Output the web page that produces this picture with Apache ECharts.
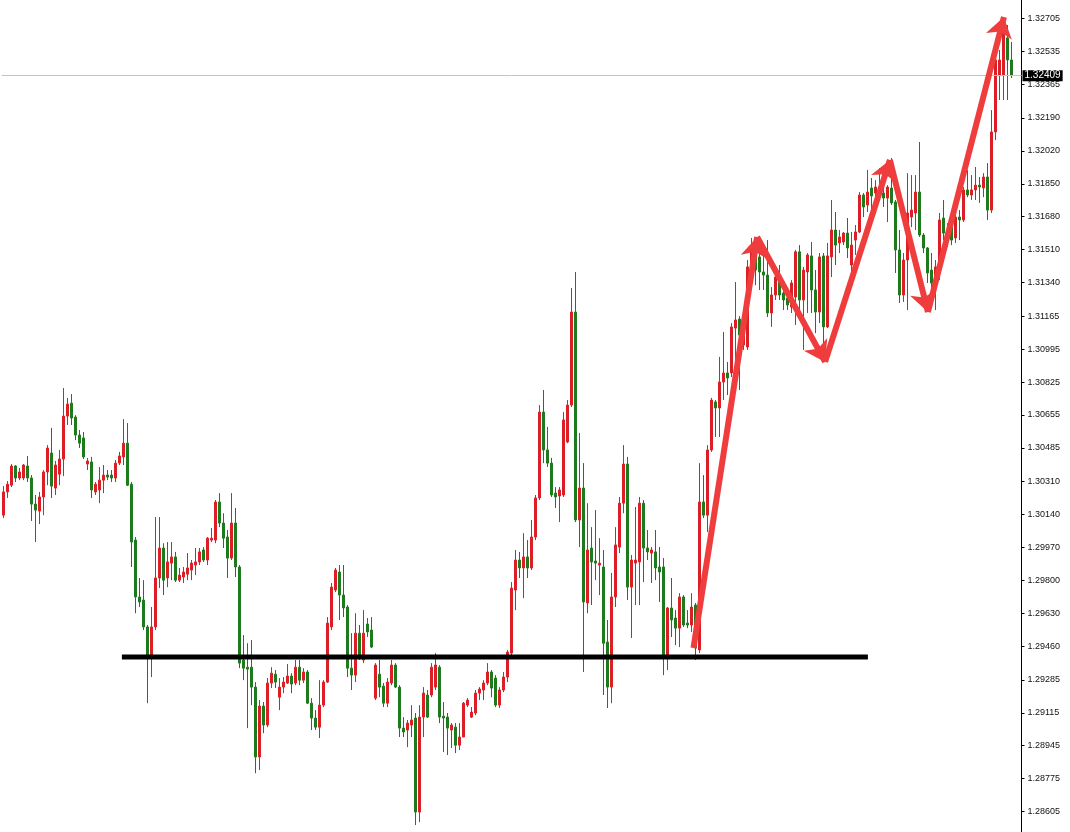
<!DOCTYPE html>
<html><head><meta charset="utf-8">
<script src="https://cdn.jsdelivr.net/npm/echarts@6/dist/echarts.min.js"></script>
<style>html,body{margin:0;padding:0;background:#fff}#c{width:1070px;height:832px}</style>
</head><body><div id="c"></div>
<script>
// ---- candle data (prices) ----
const opens = [
1.30137,1.30257,1.30292,1.30391,1.30329,1.30329,1.30391,1.30329,1.30194,1.30158,
1.30231,1.30360,1.30458,1.30277,1.30349,1.30427,1.30649,1.30716,1.30644,1.30551,
1.30536,1.30401,1.30412,1.30257,1.30267,1.30318,1.30344,1.30344,1.30329,1.30406,
1.30438,1.30509,1.30297,1.30008,1.29714,1.29698,1.29559,1.29404,1.29559,1.29812,
1.29967,1.29812,1.29889,1.29921,1.29801,1.29817,1.29832,1.29853,1.29879,1.29895,
1.29957,1.29905,1.30008,1.30008,1.30205,1.30096,1.30024,1.29915,1.30096,1.29869,
1.29388,1.29351,1.29351,1.29248,1.28887,1.29150,1.29052,1.29269,1.29315,1.29196,
1.29248,1.29269,1.29305,1.29269,1.29351,1.29284,1.29326,1.29165,1.29088,1.29041,
1.29155,1.29274,1.29559,1.29750,1.29843,1.29724,1.29662,1.29346,1.29310,1.29527,
1.29388,1.29574,1.29543,1.29191,1.29315,1.29253,1.29165,1.29269,1.29362,1.29248,
1.29036,1.29026,1.29052,1.29088,1.28602,1.29093,1.29207,1.29207,1.29248,1.29351,
1.29098,1.29093,1.29026,1.29041,1.28948,1.28990,1.29155,1.29093,1.29114,1.29217,
1.29233,1.29269,1.29326,1.29295,1.29155,1.29233,1.29300,1.29424,1.29750,1.29905,
1.29864,1.29921,1.29864,1.30024,1.30226,1.30670,1.30474,1.30406,1.30251,1.30236,
1.30241,1.30515,1.30706,1.31187,1.30112,1.30277,1.29683,1.29967,1.29900,1.29879,
1.29869,1.29481,1.29248,1.29714,1.29972,1.30199,1.30401,1.29765,1.29889,1.29895,
1.30199,1.29967,1.29941,1.29947,1.29869,1.29869,1.29414,1.29657,1.29605,1.29553,
1.29714,1.29579,1.29569,1.29672,1.29440,1.30205,1.30137,1.30474,1.30722,1.30691,
1.30825,1.30872,1.30872,1.31104,1.31151,1.31016,1.31006,1.31420,1.31492,1.31472,
1.31394,1.31378,1.31182,1.31275,1.31352,1.31285,1.31259,1.31213,1.31265,1.31498,
1.31249,1.31394,1.31477,1.31301,1.31187,1.31477,1.31110,1.31472,1.31611,1.31544,
1.31549,1.31595,1.31430,1.31559,1.31601,1.31792,1.31740,1.31828,1.31802,1.31792,
1.31802,1.31776,1.31828,1.31756,1.31508,1.31275,1.31456,1.31678,1.31699,1.31807,
1.31585,1.31518,1.31404,1.31337,1.31420,1.31673,1.31559,1.31637,1.31570,1.31678,
1.31663,1.31818,1.31792,1.31818,1.31843,1.31828,1.31885,1.31714,1.32118,1.32412,
1.32412,1.32604,1.32490];
const closes = [
1.30257,1.30297,1.30391,1.30329,1.30360,1.30396,1.30329,1.30194,1.30163,1.30231,
1.30360,1.30484,1.30287,1.30396,1.30427,1.30649,1.30711,1.30639,1.30551,1.30509,
1.30438,1.30417,1.30267,1.30297,1.30318,1.30344,1.30334,1.30329,1.30406,1.30443,
1.30509,1.30292,1.29998,1.29714,1.29688,1.29559,1.29404,1.29559,1.29812,1.29967,
1.29801,1.29895,1.29921,1.29801,1.29827,1.29843,1.29864,1.29889,1.29895,1.29947,
1.29905,1.30018,1.30018,1.30205,1.30096,1.30018,1.29915,1.30096,1.29869,1.29372,
1.29346,1.29341,1.29248,1.28887,1.29150,1.29052,1.29269,1.29320,1.29274,1.29248,
1.29274,1.29305,1.29264,1.29351,1.29284,1.29326,1.29165,1.29088,1.29041,1.29155,
1.29274,1.29579,1.29765,1.29853,1.29724,1.29657,1.29346,1.29310,1.29527,1.29404,
1.29527,1.29533,1.29455,1.29362,1.29248,1.29165,1.29274,1.29362,1.29248,1.29036,
1.29016,1.29062,1.29078,1.28602,1.29093,1.29217,1.29093,1.29351,1.29362,1.29093,
1.29088,1.29036,1.29052,1.28948,1.28990,1.29165,1.29181,1.29119,1.29217,1.29238,
1.29269,1.29326,1.29243,1.29155,1.29233,1.29300,1.29429,1.29760,1.29905,1.29864,
1.29921,1.29864,1.30024,1.30226,1.30670,1.30474,1.30406,1.30241,1.30231,1.30267,
1.30629,1.30706,1.31187,1.30112,1.30277,1.29688,1.29957,1.29895,1.29889,1.29889,
1.29475,1.29248,1.29714,1.29983,1.30199,1.30401,1.29765,1.29905,1.29905,1.30199,
1.29967,1.29947,1.29957,1.29864,1.29843,1.29404,1.29657,1.29595,1.29553,1.29714,
1.29569,1.29569,1.29662,1.29450,1.30205,1.30137,1.30474,1.30732,1.30691,1.30825,
1.30872,1.30846,1.31110,1.31146,1.31068,1.31146,1.31420,1.31508,1.31404,1.31394,
1.31378,1.31182,1.31275,1.31368,1.31275,1.31249,1.31223,1.31337,1.31498,1.31249,
1.31404,1.31482,1.31301,1.31187,1.31472,1.31110,1.31477,1.31611,1.31533,1.31575,
1.31595,1.31518,1.31533,1.31601,1.31792,1.31730,1.31807,1.31787,1.31833,1.31833,
1.31776,1.31833,1.31751,1.31508,1.31275,1.31456,1.31699,1.31714,1.31807,1.31585,
1.31518,1.31389,1.31337,1.31420,1.31663,1.31595,1.31611,1.31559,1.31678,1.31663,
1.31818,1.31792,1.31818,1.31843,1.31833,1.31885,1.31714,1.32118,1.32490,1.32490,
1.32645,1.32490,1.32409];
const lows = [
1.30122,1.30226,1.30282,1.30308,1.30318,1.30318,1.30308,1.30107,1.29998,1.30091,
1.30137,1.30292,1.30226,1.30241,1.30292,1.30339,1.30603,1.30603,1.30525,1.30484,
1.30427,1.30370,1.30226,1.30241,1.30199,1.30251,1.30318,1.30308,1.30308,1.30396,
1.30396,1.30287,1.29869,1.29630,1.29662,1.29543,1.29165,1.29300,1.29543,1.29760,
1.29724,1.29765,1.29801,1.29791,1.29791,1.29786,1.29801,1.29801,1.29827,1.29879,
1.29895,1.29879,1.29998,1.29992,1.30075,1.29967,1.29812,1.29905,1.29817,1.29346,
1.29284,1.29036,1.29155,1.28803,1.28819,1.29010,1.29041,1.29243,1.29243,1.29129,
1.29217,1.29264,1.29217,1.29258,1.29258,1.29269,1.29160,1.29026,1.29026,1.28985,
1.29145,1.29269,1.29543,1.29739,1.29595,1.29610,1.29300,1.29233,1.29274,1.29388,
1.29372,1.29507,1.29450,1.29181,1.29196,1.29145,1.29145,1.29258,1.29243,1.28990,
1.28990,1.28938,1.28990,1.28535,1.28550,1.28990,1.29088,1.29196,1.29233,1.29062,
1.28912,1.28897,1.28933,1.28907,1.28923,1.28990,1.29145,1.29088,1.29103,1.29181,
1.29181,1.29258,1.29196,1.29145,1.29140,1.29222,1.29274,1.29404,1.29646,1.29812,
1.29708,1.29812,1.29853,1.30008,1.30215,1.30406,1.30386,1.30231,1.30174,1.30101,
1.30231,1.30509,1.30696,1.30101,1.29972,1.29326,1.29630,1.29672,1.29801,1.29724,
1.29207,1.29140,1.29165,1.29662,1.29941,1.30147,1.29698,1.29502,1.29672,1.29672,
1.29791,1.29905,1.29786,1.29801,1.29688,1.29310,1.29336,1.29507,1.29465,1.29455,
1.29559,1.29553,1.29533,1.29388,1.29424,1.30122,1.30050,1.30464,1.30541,1.30541,
1.30732,1.30758,1.30851,1.30939,1.30784,1.30991,1.30991,1.31404,1.31326,1.31301,
1.31301,1.31161,1.31110,1.31249,1.31249,1.31197,1.31197,1.31182,1.31120,1.31161,
1.30991,1.31182,1.31182,1.31078,1.31130,1.31006,1.31104,1.31368,1.31430,1.31492,
1.31533,1.31466,1.31378,1.31482,1.31595,1.31678,1.31704,1.31714,1.31766,1.31766,
1.31730,1.31652,1.31740,1.31389,1.31234,1.31239,1.31197,1.31626,1.31611,1.31575,
1.31492,1.31337,1.31285,1.31197,1.31352,1.31559,1.31523,1.31533,1.31544,1.31559,
1.31652,1.31781,1.31766,1.31766,1.31751,1.31781,1.31663,1.31699,1.32076,1.32283,
1.32283,1.32283,1.32397];
const highs = [
1.30287,1.30313,1.30401,1.30396,1.30381,1.30401,1.30443,1.30344,1.30241,1.30257,
1.30370,1.30499,1.30588,1.30417,1.30474,1.30794,1.30743,1.30763,1.30654,1.30577,
1.30567,1.30433,1.30438,1.30308,1.30386,1.30396,1.30370,1.30370,1.30422,1.30464,
1.30633,1.30613,1.30308,1.30024,1.29812,1.29801,1.29569,1.29662,1.30127,1.30127,
1.29992,1.29998,1.29998,1.29947,1.29864,1.29869,1.29941,1.29905,1.29967,1.29967,
1.29972,1.30024,1.30070,1.30215,1.30251,1.30147,1.30060,1.30251,1.30174,1.29879,
1.29517,1.29475,1.29491,1.29274,1.29181,1.29171,1.29295,1.29351,1.29336,1.29295,
1.29300,1.29367,1.29320,1.29388,1.29388,1.29346,1.29336,1.29191,1.29129,1.29284,
1.29284,1.29610,1.29786,1.29864,1.29879,1.29879,1.29672,1.29527,1.29630,1.29569,
1.29646,1.29605,1.29610,1.29372,1.29388,1.29269,1.29295,1.29388,1.29372,1.29258,
1.29093,1.29078,1.29155,1.29114,1.29155,1.29248,1.29233,1.29372,1.29424,1.29362,
1.29171,1.29114,1.29062,1.29062,1.29062,1.29171,1.29191,1.29145,1.29233,1.29248,
1.29284,1.29372,1.29336,1.29310,1.29248,1.29326,1.29440,1.29791,1.29957,1.29947,
1.30044,1.30008,1.30112,1.30241,1.30706,1.30784,1.30593,1.30433,1.30282,1.30282,
1.30670,1.30732,1.31311,1.31394,1.30562,1.30406,1.30199,1.30075,1.30163,1.30018,
1.29957,1.29595,1.29838,1.30075,1.30231,1.30499,1.30438,1.29931,1.30179,1.30231,
1.30215,1.30060,1.29972,1.30060,1.29972,1.29915,1.29662,1.29812,1.29646,1.29734,
1.29724,1.29646,1.29734,1.29683,1.30406,1.30344,1.30499,1.30743,1.30732,1.30955,
1.31084,1.30929,1.31130,1.31342,1.31166,1.31171,1.31456,1.31570,1.31533,1.31508,
1.31508,1.31559,1.31316,1.31378,1.31430,1.31342,1.31301,1.31352,1.31508,1.31533,
1.31420,1.31492,1.31549,1.31404,1.31492,1.31492,1.31544,1.31766,1.31704,1.31611,
1.31601,1.31673,1.31601,1.31637,1.31807,1.31802,1.31921,1.31880,1.31869,1.31931,
1.31828,1.31843,1.31983,1.31766,1.31611,1.31492,1.31905,1.31895,1.31895,1.32066,
1.31595,1.31523,1.31492,1.31456,1.31699,1.31766,1.31647,1.31652,1.31699,1.31714,
1.31833,1.31921,1.31895,1.31937,1.31885,1.31905,1.31957,1.32231,1.32505,1.32542,
1.32660,1.32671,1.32583];

// ---- axis tick labels ----
const priceTicks = ['1.32705','1.32535','1.32365','1.32190','1.32020','1.31850','1.31680',
 '1.31510','1.31340','1.31165','1.30995','1.30825','1.30655','1.30485','1.30310','1.30140',
 '1.29970','1.29800','1.29630','1.29460','1.29285','1.29115','1.28945','1.28775','1.28605'];
const lastPrice = 1.32409;

// ---- annotations in data space: [bar index, price] ----
const supportLine = [[29.6, 1.29404], [216.1, 1.29404]];
const arrowPath = [[172.5, 1.29450], [188.4, 1.31575], [205.4, 1.30929],
                   [221.6, 1.31973], [231.1, 1.31187], [250.1, 1.32712]];

const padBars = 2;
const categories = opens.map((_, i) => String(i + 1));
for (let k = 0; k < padBars; k++) categories.push('');
const candles = opens.map((o, i) => [o, closes[i], lows[i], highs[i]]);

const UP = '#dc1f26', DOWN = '#1d7a1d', ARROW = '#ef3d3d';

const arrowSegs = [];
for (let k = 0; k < arrowPath.length - 1; k++) {
  arrowSegs.push([{coord: arrowPath[k]}, {coord: arrowPath[k + 1]}]);
}

const chart = echarts.init(document.getElementById('c'), null, {renderer: 'canvas'});
chart.setOption({
  animation: false,
  backgroundColor: '#ffffff',
  grid: {left: 1.5, right: 48.5, top: 0, bottom: 0},
  xAxis: [
    {type: 'category', data: categories, show: false, boundaryGap: true},
    {type: 'value', min: -0.5, max: categories.length - 0.5, show: false}
  ],
  yAxis: {
    type: 'value', position: 'right', min: 1.28499, max: 1.32800, scale: true,
    splitLine: {show: false},
    axisLine: {show: true, onZero: false, lineStyle: {color: '#000', width: 1}},
    axisTick: {show: true, length: 3, lineStyle: {color: '#000'},
               customValues: priceTicks.map(Number)},
    axisLabel: {show: true, color: '#111', fontSize: 9, fontFamily: 'Liberation Sans, Arial, sans-serif',
                margin: 6, customValues: priceTicks.map(Number),
                formatter: v => v.toFixed(5)}
  },
  series: [
    {
      type: 'candlestick', data: candles, barWidth: 2,
      itemStyle: {color: UP, color0: DOWN, borderColor: UP, borderColor0: DOWN, borderWidth: 1}
    },
    {
      type: 'line', xAxisIndex: 1, data: supportLine, symbol: 'none', silent: true,
      lineStyle: {color: '#000', width: 5}, z: 5,
      markLine: {
        silent: true, symbol: ['none', 'none'], animation: false,
        lineStyle: {color: '#c4c4c4', width: 1, type: 'solid'},
        label: {show: true, position: 'end', distance: 1, formatter: lastPrice.toFixed(5),
                color: '#fff', backgroundColor: '#000', padding: [1, 2, 0, 2],
                fontSize: 10, fontFamily: 'Liberation Sans, Arial, sans-serif'},
        emphasis: {disabled: true},
        data: [[{coord: [-0.5, lastPrice]}, {coord: [categories.length - 0.5, lastPrice]}]]
      }
    },
    {
      type: 'line', xAxisIndex: 1, data: arrowPath, symbol: 'none', silent: true,
      lineStyle: {opacity: 0}, z: 6,
      markLine: {
        silent: true, symbol: ['none', 'arrow'], symbolSize: 20, animation: false,
        lineStyle: {color: ARROW, width: 6, type: 'solid', opacity: 1},
        itemStyle: {color: ARROW},
        label: {show: false},
        emphasis: {disabled: true},
        data: arrowSegs
      }
    }
  ]
});
</script></body></html>
